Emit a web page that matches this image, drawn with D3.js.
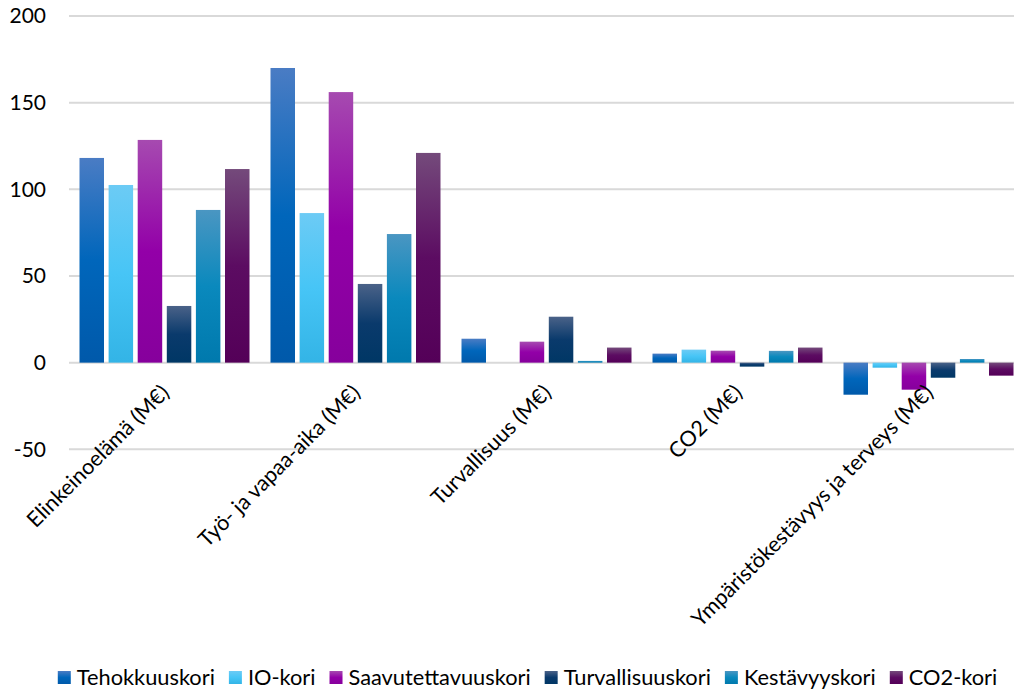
<!DOCTYPE html>
<html>
<head>
<meta charset="utf-8">
<script src="https://cdn.jsdelivr.net/npm/d3@7"></script>
<style>
  body { margin: 0; background: #fff; }
  svg { display: block; }
  text { font-family: Lato, "Noto Sans", sans-serif; fill: #000; }
</style>
</head>
<body>
<svg id="chart" width="1014" height="689"></svg>
<script>
// Categories (x axis) and series (one bar per series inside each category)
const categories = [
  "Elinkeinoelämä (M€)",
  "Työ- ja vapaa-aika (M€)",
  "Turvallisuus (M€)",
  "CO2 (M€)",
  "Ympäristökestävyys ja terveys (M€)"
];
const seriesNames = ["Tehokkuuskori", "IO-kori", "Saavutettavuuskori", "Turvallisuuskori", "Kestävyyskori", "CO2-kori"];

// Values per series, in category order (M€)
const tehokkuuskori      = [118.1, 170.0, 13.8, 5.2, -18.5];
const ioKori             = [102.5, 86.3, 0, 7.5, -2.9];
const saavutettavuuskori = [128.5, 156.1, 12.1, 6.9, -15.6];
const turvallisuuskori   = [32.7, 45.4, 26.5, -2.3, -8.7];
const kestavyyskori      = [88.1, 74.2, 1.0, 6.8, 2.1];
const co2Kori            = [111.7, 121.0, 8.7, 8.7, -7.5];

const yTicks = [-50, 0, 50, 100, 150, 200];

// Gradient stops per series: top tint, base, bottom shade
const seriesColors = [
  ["#4a7cc4", "#0066bb", "#0059aa"],
  ["#6ccbf5", "#47c5f6", "#33b4e6"],
  ["#a64ab0", "#9300a8", "#86009c"],
  ["#4a6288", "#0a3a6c", "#003765"],
  ["#4a96c2", "#0a89bd", "#0079ad"],
  ["#744a7b", "#5c0c62", "#540058"]
];

const seriesValues = [tehokkuuskori, ioKori, saavutettavuuskori, turvallisuuskori, kestavyyskori, co2Kori];
const table = categories.map((c, i) => ({
  category: c,
  values: seriesNames.map((s, j) => ({ series: s, index: j, value: seriesValues[j][i] }))
}));

const svg = d3.select("#chart");

// Plot area
const plotLeft = 69, plotRight = 1024;
const y = d3.scaleLinear().domain([-50, 200]).range([449.3, 16]);
const x0 = d3.scaleBand().domain(categories).range([plotLeft, plotRight]).paddingInner(0).paddingOuter(0);
const x1 = d3.scaleBand().domain(seriesNames)
  .range([10.5, x0.bandwidth() - 10.5]).paddingInner(0.158).paddingOuter(0);

// Gradients
const defs = svg.append("defs");
seriesColors.forEach((cols, j) => {
  const g = defs.append("linearGradient")
    .attr("id", "grad" + j).attr("x1", 0).attr("y1", 0).attr("x2", 0).attr("y2", 1);
  g.append("stop").attr("offset", "0%").attr("stop-color", cols[0]);
  g.append("stop").attr("offset", "50%").attr("stop-color", cols[1]);
  g.append("stop").attr("offset", "100%").attr("stop-color", cols[2]);
});

// Horizontal gridlines
svg.append("g").selectAll("line").data(yTicks).join("line")
  .attr("x1", plotLeft).attr("x2", plotRight)
  .attr("y1", d => y(d)).attr("y2", d => y(d))
  .attr("stroke", "#d9d9d9").attr("stroke-width", 2);

// Y axis tick labels (plain hyphen for negatives)
const yAxis = d3.axisLeft(y).tickValues(yTicks).tickSize(0).tickPadding(0)
  .tickFormat(d => String(d));
const yg = svg.append("g").attr("transform", "translate(46,0)").call(yAxis);
yg.select(".domain").remove();
yg.selectAll("text").attr("font-size", 21).attr("fill", "#000")
  .style("font-family", "Lato, 'Noto Sans', sans-serif");

// Bars
const groups = svg.append("g").selectAll("g").data(table).join("g")
  .attr("transform", d => `translate(${x0(d.category)},0)`);
groups.selectAll("rect").data(d => d.values).join("rect")
  .attr("x", d => x1(d.series))
  .attr("width", x1.bandwidth())
  .attr("y", d => y(Math.max(0, d.value)))
  .attr("height", d => Math.abs(y(d.value) - y(0)))
  .attr("fill", d => `url(#grad${d.index})`);

// Category labels, rotated
svg.append("g").selectAll("text").data(categories).join("text")
  .attr("transform", d => `translate(${x0(d) + x0.bandwidth() / 2 + 6},394) rotate(-45)`)
  .attr("text-anchor", "end")
  .attr("font-size", 21.5)
  .text(d => d);

// Legend
const legend = svg.append("g");
const items = legend.selectAll("g").data(seriesNames).join("g");
items.append("rect").attr("width", 13).attr("height", 13).attr("y", 671)
  .attr("fill", (d, j) => `url(#grad${j})`);
items.append("text").attr("x", 19).attr("y", 685).attr("font-size", 21.8).text(d => d);
let cursor = 0;
const offsets = [];
items.each(function () {
  const w = 19 + d3.select(this).select("text").node().getComputedTextLength();
  offsets.push(cursor);
  cursor += w + 14;
});
const total = cursor - 14;
const startX = 527.5 - total / 2;
items.attr("transform", (d, j) => `translate(${startX + offsets[j]},0)`);
</script>
</body>
</html>
